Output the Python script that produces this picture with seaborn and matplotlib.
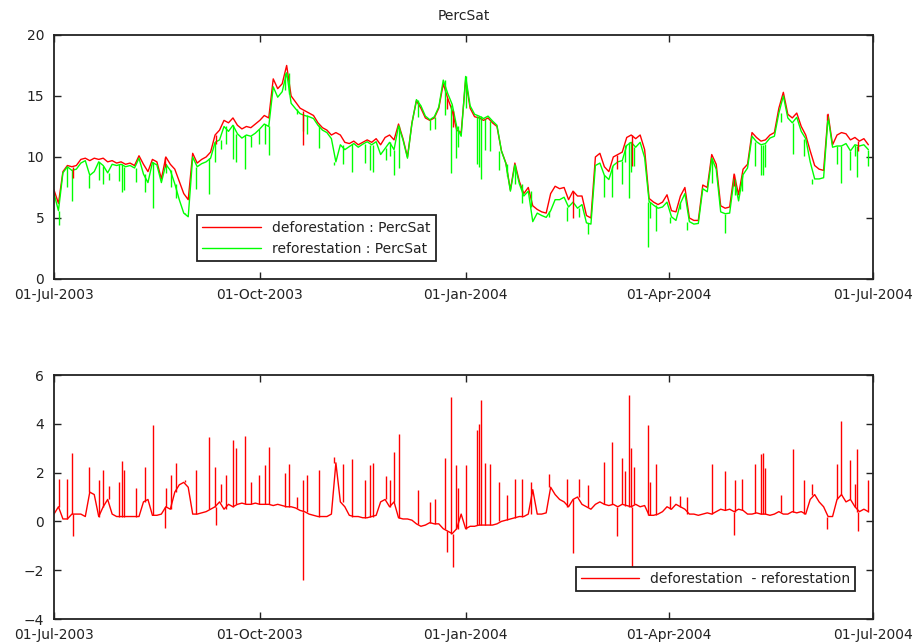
import numpy as np
import pandas as pd
import seaborn as sns
import matplotlib.pyplot as plt
import matplotlib.dates as mdates
from matplotlib.lines import Line2D

# ---- data (2-day steps from 01-Jul-2003) ----
start = pd.Timestamp('2003-07-01')
day = np.arange(0, 365, 2)

defo = [7.3, 6.2, 8.8, 9.3, 9.2, 9.3, 9.8, 9.9, 9.7, 9.9,
        9.8, 9.9, 9.6, 9.7, 9.5, 9.6, 9.4, 9.5, 9.3, 10.1,
        9.4, 8.8, 9.8, 9.6, 8.2, 10.0, 9.4, 9.0, 8.0, 7.0,
        6.5, 10.3, 9.5, 9.8, 10.0, 10.4, 11.8, 12.2, 13.0, 12.8,
        13.2, 12.6, 12.3, 12.5, 12.4, 12.7, 13.0, 13.4, 13.2, 16.4,
        15.6, 16.0, 17.5, 15.0, 14.5, 14.0, 13.8, 13.6, 13.4, 12.8,
        12.4, 12.2, 11.8, 12.0, 11.8, 11.2, 11.1, 11.3, 11.0, 11.2,
        11.4, 11.2, 11.5, 11.0, 11.6, 11.8, 11.4, 12.7, 11.5, 10.0,
        12.8, 14.6, 14.0, 13.2, 13.0, 13.2, 14.0, 16.0, 14.8, 13.8,
        12.2, 12.0, 16.3, 14.0, 13.3, 13.2, 13.0, 13.2, 12.8, 12.5,
        10.5, 9.5, 7.3, 9.5, 8.0, 7.0, 7.5, 6.0, 5.7, 5.5,
        5.4, 7.0, 7.6, 7.4, 7.5, 6.5, 7.2, 6.8, 6.8, 5.2,
        5.0, 10.0, 10.3, 9.2, 8.8, 10.0, 10.2, 10.4, 11.6, 11.8,
        11.5, 11.8, 10.6, 6.6, 6.3, 6.1, 6.3, 6.9, 5.6, 5.5,
        6.8, 7.5, 5.0, 4.8, 4.8, 7.7, 7.5, 10.2, 9.4, 6.0,
        5.8, 5.9, 8.6, 6.9, 9.0, 9.4, 12.0, 11.6, 11.3, 11.4,
        11.8, 12.0, 14.0, 15.3, 13.5, 13.2, 13.6, 12.5, 11.8, 10.5,
        9.3, 9.0, 8.9, 13.5, 11.0, 11.8, 12.0, 11.9, 11.4, 11.6,
        11.3, 11.5, 11.0]

diff_base = [0.3, 0.6, 0.1, 0.1, 0.3, 0.3, 0.3, 0.2, 1.2, 1.1,
             0.2, 0.6, 0.9, 0.3, 0.2, 0.2, 0.2, 0.2, 0.2, 0.2,
             0.8, 0.9, 0.25, 0.25, 0.3, 0.6, 0.5, 1.2, 1.5, 1.6,
             1.4, 0.3, 0.3, 0.35, 0.4, 0.5, 0.6, 0.8, 0.5, 0.7,
             0.6, 0.7, 0.75, 0.7, 0.7, 0.75, 0.7, 0.7, 0.7, 0.65,
             0.7, 0.65, 0.6, 0.6, 0.55, 0.45, 0.4, 0.3, 0.25, 0.2,
             0.2, 0.2, 0.3, 2.4, 0.8, 0.6, 0.25, 0.2, 0.2, 0.15,
             0.15, 0.2, 0.25, 0.8, 0.9, 0.6, 0.8, 0.15, 0.1, 0.1,
             0.05, -0.1, -0.2, -0.15, -0.05, -0.1, -0.1, -0.3, -0.4, -0.5,
             -0.3, 0.3, -0.3, -0.2, -0.2, -0.15, -0.15, -0.15, -0.15, -0.1,
             0.0, 0.05, 0.1, 0.15, 0.2, 0.2, 0.3, 1.3, 0.3, 0.3,
             0.35, 1.4, 1.1, 0.9, 0.8, 0.6, 0.9, 1.0, 0.7, 0.6,
             0.5, 0.7, 0.8, 0.7, 0.65, 0.7, 0.6, 0.7, 0.65, 0.6,
             0.7, 0.6, 0.65, 0.25, 0.25, 0.3, 0.4, 0.6, 0.5, 0.7,
             0.6, 0.5, 0.3, 0.3, 0.25, 0.3, 0.35, 0.3, 0.4, 0.5,
             0.45, 0.5, 0.4, 0.5, 0.45, 0.3, 0.3, 0.35, 0.3, 0.3,
             0.25, 0.3, 0.4, 0.3, 0.3, 0.4, 0.35, 0.4, 0.3, 0.9,
             1.1, 0.8, 0.6, 0.2, 0.2, 0.9, 1.1, 0.8, 0.9, 0.6,
             0.4, 0.5, 0.4]

# short spikes in the difference (day after 01-Jul-2003, value)
spike_day = [2.4, 6, 8.2, 8.5, 15.8, 20.3, 21.7, 24.4, 29.2, 30.2, 31.3, 36.6,
             40.7, 44.1, 49.6, 49.9, 52.1, 54.4, 58.5, 63.3, 69.1, 71.8, 72.2,
             74.5, 76.7, 79.8, 81.2, 85.5, 88.0, 91.6, 94.1, 95.9, 103.4, 105,
             108.7, 111.1, 111.4, 112.9, 118.6, 125.3, 129, 133.2, 138.8, 141.2,
             142.4, 148.4, 150.2, 152.2, 154.2, 162.8, 168, 170.3, 174.9, 175.5,
             177.3, 178.2, 179.6, 180.7, 184.1, 189.2, 190, 190.8, 192.6, 195.1,
             199, 202.3, 206, 209, 213, 221.3, 229.1, 232, 234.7, 238.8, 245.8,
             249.6, 251.6, 253.7, 255.4, 257.2, 257.8, 258.3, 259.2, 265.7,
             266.3, 269, 275.2, 279.7, 283.1, 293.9, 299.8, 304.1, 304.3, 307.3,
             313.4, 315.9, 317, 317.9, 324.9, 330.1, 335.4, 339, 345.3, 350.2,
             351.7, 355.7, 357.9, 359, 359.2, 363.9]
spike_val = [1.75, 1.75, 2.8, -0.6, 2.25, 1.7, 2.1, 1.45, 1.6, 2.47, 2.1, 1.35,
             2.25, 3.95, -0.25, 1.35, 1.9, 2.4, 1.7, 2.1, 3.45, 2.25, -0.15,
             1.55, 1.9, 3.35, 3.0, 3.5, 1.6, 1.9, 2.3, 3.05, 2.0, 2.35,
             1.0, -2.4, 1.7, 1.9, 2.1, 2.65, 2.35, 2.55, 1.7, 2.3,
             2.4, 1.85, 1.7, 2.85, 3.6, 1.3, 0.8, 0.9, 2.6, -1.25,
             5.1, -1.85, 2.3, 1.35, 2.3, 3.75, 4.0, 4.98, 2.4, 2.35,
             1.6, 1.1, 1.75, 1.75, 1.6, 1.95, 1.75, -1.3, 1.75, 1.5, 2.45,
             3.25, -0.6, 2.6, 2.05, 5.2, 3.0, -1.95, 2.25, 3.95,
             1.6, 2.35, 1.05, 1.05, 1.0, 2.35, 2.05, -0.55, 1.7, 1.75,
             2.35, 2.75, 2.8, 2.2, 1.1, 2.95, 1.7, 1.55, -0.3, 2.35,
             4.1, 2.5, 1.55, 2.95, -0.4, 1.7]

df = pd.DataFrame({'date': start + pd.to_timedelta(day, unit='D'),
                   'defo': defo, 'diff': diff_base})
df['refo'] = df['defo'] - df['diff']

sp = pd.DataFrame({'date': start + pd.to_timedelta(spike_day, unit='D'),
                   'val': spike_val})
idx = np.clip(np.round(np.array(spike_day) / 2).astype(int), 0, len(df) - 1)
sp['defo'] = df['defo'].values[idx]
sp['refo'] = df['refo'].values[idx]
sp['base'] = df['diff'].values[idx]

# ---- style ----
sns.set_style('ticks')
plt.rcParams['font.family'] = ['DejaVu Sans']
plt.rcParams['text.color'] = '#222222'
plt.rcParams['xtick.color'] = '#222222'
plt.rcParams['ytick.color'] = '#222222'

RED = '#ff0000'
GREEN = '#00ff00'
LW = 1.0

fig = plt.figure(figsize=(9.18, 6.44), dpi=100)
ax1 = fig.add_axes([0.0588, 0.5668, 0.892, 0.3789])
ax2 = fig.add_axes([0.0588, 0.0388, 0.892, 0.3789])

# top panel
sns.lineplot(data=df, x='date', y='defo', color=RED, lw=LW, ax=ax1, estimator=None)
sns.lineplot(data=df, x='date', y='refo', color=GREEN, lw=LW, ax=ax1, estimator=None)
pos = sp[sp['val'] > 0]
neg = sp[sp['val'] < 0]
ax1.vlines(pos['date'], pos['refo'], pos['defo'] - pos['val'], color=GREEN, lw=LW)
ax1.vlines(neg['date'], neg['defo'], neg['refo'] + neg['val'], color=RED, lw=LW)

# bottom panel
sns.lineplot(data=df, x='date', y='diff', color=RED, lw=LW, ax=ax2, estimator=None)
ax2.vlines(sp['date'], sp['base'], sp['val'], color=RED, lw=LW)

ax1.set_ylim(0, 20)
ax1.set_yticks([0, 5, 10, 15, 20])
ax2.set_ylim(-4, 6)
ax2.set_yticks([-4, -2, 0, 2, 4, 6])

xt = pd.to_datetime(['2003-07-01', '2003-10-01', '2004-01-01', '2004-04-01', '2004-07-01'])
for ax in (ax1, ax2):
    ax.set_xlim(pd.Timestamp('2003-07-01'), pd.Timestamp('2004-07-01'))
    ax.set_xticks(xt)
    ax.xaxis.set_major_formatter(mdates.DateFormatter('%d-%b-%Y'))
    ax.set_xlabel('')
    ax.set_ylabel('')
    ax.tick_params(direction='in', length=5, width=1, top=True, right=True,
                   labelsize=10)
    ax.tick_params(axis='y', pad=7)
    ax.tick_params(axis='x', pad=6.5)
    for s in ax.spines.values():
        s.set_visible(True)
        s.set_linewidth(1.3)
        s.set_color('#222222')

ax1.set_title('PercSat', fontsize=10, pad=11)

h1 = [Line2D([], [], color=RED, lw=LW), Line2D([], [], color=GREEN, lw=LW)]
leg1 = ax1.legend(h1, ['deforestation : PercSat', 'reforestation : PercSat'],
                  loc='lower left', bbox_to_anchor=(0.166, 0.045), fontsize=10,
                  fancybox=False, framealpha=1, edgecolor='#222222',
                  handlelength=4.2, borderpad=0.4, labelspacing=0.5)
leg1.get_frame().set_linewidth(1.3)

h2 = [Line2D([], [], color=RED, lw=LW)]
leg2 = ax2.legend(h2, ['deforestation  - reforestation'],
                  loc='lower right', bbox_to_anchor=(0.987, 0.086), fontsize=10,
                  fancybox=False, framealpha=1, edgecolor='#222222',
                  handlelength=4.2, borderpad=0.35)
leg2.get_frame().set_linewidth(1.3)

fig.savefig('out.png', dpi=100)
